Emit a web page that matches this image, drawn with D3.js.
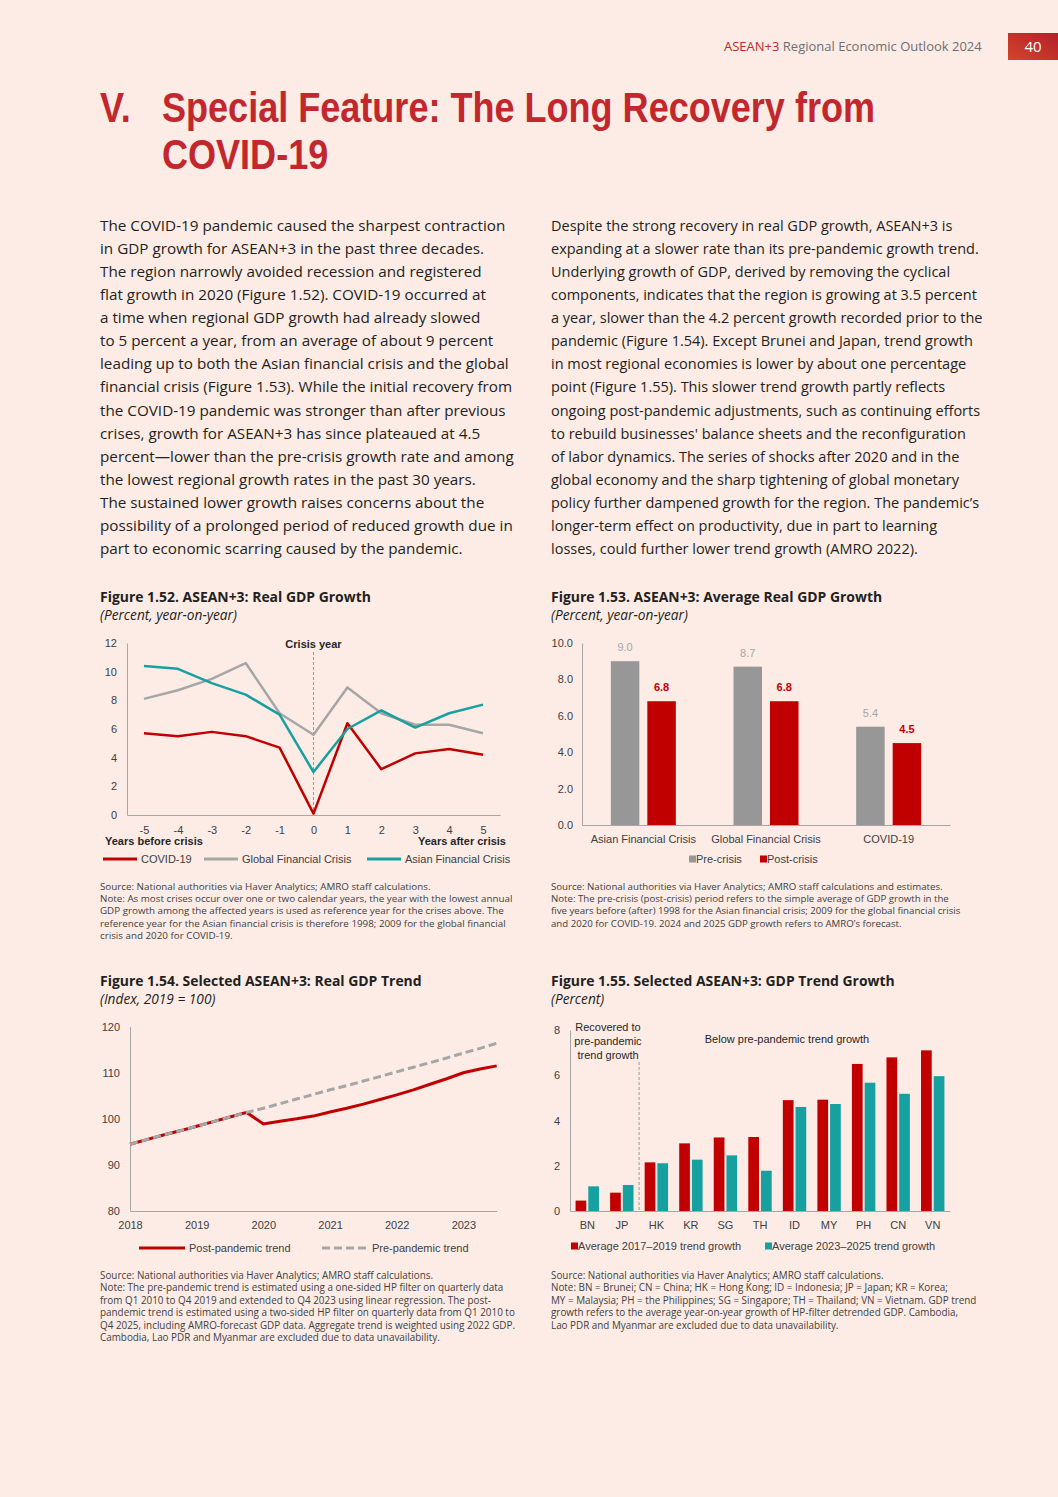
<!DOCTYPE html>
<html>
<head>
<meta charset="utf-8">
<script src="https://cdn.jsdelivr.net/npm/d3@7"></script>
<style>
  body { margin: 0; background: #fdece6; }
  svg { display: block; }
  .tick-lbl { font-family: "Liberation Sans", Arial, sans-serif; font-size: 11px; fill: #404040; }
</style>
</head>
<body>
<div id="page"></div>
<script>
// ---- chart data ----
const crisisYears = [-5, -4, -3, -2, -1, 0, 1, 2, 3, 4, 5];
const covidGrowth = [5.7, 5.5, 5.8, 5.5, 4.7, 0.1, 6.4, 3.2, 4.3, 4.6, 4.2];
const gfcGrowth   = [8.1, 8.7, 9.5, 10.6, 7.1, 5.6, 8.9, 7.1, 6.3, 6.3, 5.7];
const afcGrowth   = [10.4, 10.2, 9.2, 8.4, 7.0, 3.0, 6.0, 7.3, 6.1, 7.1, 7.7];

const crisisNames   = ["Asian Financial Crisis", "Global Financial Crisis", "COVID-19"];
const preCrisisAvg  = [9.0, 8.7, 5.4];
const postCrisisAvg = [6.8, 6.8, 4.5];

const trendQuarters = [2018.00, 2018.25, 2018.50, 2018.75, 2019.00, 2019.25, 2019.50, 2019.75,
                       2020.00, 2020.25, 2020.50, 2020.75, 2021.00, 2021.25, 2021.50, 2021.75,
                       2022.00, 2022.25, 2022.50, 2022.75, 2023.00, 2023.25, 2023.50];
const prePandemicTrend  = [94.5, 95.5, 96.5, 97.4, 98.4, 99.4, 100.4, 101.4,
                           102.3, 103.3, 104.3, 105.3, 106.3, 107.2, 108.2, 109.2,
                           110.2, 111.2, 112.2, 113.2, 114.3, 115.3, 116.4];
const postPandemicTrend = [94.5, 95.5, 96.5, 97.4, 98.4, 99.4, 100.4, 101.4,
                           98.9, 99.5, 100.0, 100.6, 101.5, 102.3, 103.2, 104.2,
                           105.2, 106.3, 107.5, 108.7, 110.0, 110.8, 111.5];
const trendYearTicks = [2018, 2019, 2020, 2021, 2022, 2023];

const economies = ["BN", "JP", "HK", "KR", "SG", "TH", "ID", "MY", "PH", "CN", "VN"];
const trend1719 = [0.46, 0.81, 2.15, 2.99, 3.25, 3.27, 4.90, 4.92, 6.50, 6.79, 7.10];
const trend2325 = [1.09, 1.15, 2.11, 2.27, 2.46, 1.78, 4.60, 4.73, 5.67, 5.18, 5.96];

// ---- page text ----
const bodyLeft = [
  "The COVID-19 pandemic caused the sharpest contraction",
  "in GDP growth for ASEAN+3 in the past three decades.",
  "The region narrowly avoided recession and registered",
  "flat growth in 2020 (Figure 1.52). COVID-19 occurred at",
  "a time when regional GDP growth had already slowed",
  "to 5 percent a year, from an average of about 9 percent",
  "leading up to both the Asian financial crisis and the global",
  "financial crisis (Figure 1.53). While the initial recovery from",
  "the COVID-19 pandemic was stronger than after previous",
  "crises, growth for ASEAN+3 has since plateaued at 4.5",
  "percent\u2014lower than the pre-crisis growth rate and among",
  "the lowest regional growth rates in the past 30 years.",
  "The sustained lower growth raises concerns about the",
  "possibility of a prolonged period of reduced growth due in",
  "part to economic scarring caused by the pandemic."
];
const bodyRight = [
  "Despite the strong recovery in real GDP growth, ASEAN+3 is",
  "expanding at a slower rate than its pre-pandemic growth trend.",
  "Underlying growth of GDP, derived by removing the cyclical",
  "components, indicates that the region is growing at 3.5 percent",
  "a year, slower than the 4.2 percent growth recorded prior to the",
  "pandemic (Figure 1.54). Except Brunei and Japan, trend growth",
  "in most regional economies is lower by about one percentage",
  "point (Figure 1.55). This slower trend growth partly reflects",
  "ongoing post-pandemic adjustments, such as continuing efforts",
  "to rebuild businesses' balance sheets and the reconfiguration",
  "of labor dynamics. The series of shocks after 2020 and in the",
  "global economy and the sharp tightening of global monetary",
  "policy further dampened growth for the region. The pandemic\u2019s",
  "longer-term effect on productivity, due in part to learning",
  "losses, could further lower trend growth (AMRO 2022)."
];
const notes152 = [
  "Source: National authorities via Haver Analytics; AMRO staff calculations.",
  "Note: As most crises occur over one or two calendar years, the year with the lowest annual",
  "GDP growth among the affected years is used as reference year for the crises above. The",
  "reference year for the Asian financial crisis is therefore 1998; 2009 for the global financial",
  "crisis and 2020 for COVID-19."
];
const notes153 = [
  "Source: National authorities via Haver Analytics; AMRO staff calculations and estimates.",
  "Note: The pre-crisis (post-crisis) period refers to the simple average of GDP growth in the",
  "five years before (after) 1998 for the Asian financial crisis; 2009 for the global financial crisis",
  "and 2020 for COVID-19. 2024 and 2025 GDP growth refers to AMRO\u2019s forecast."
];
const notes154 = [
  "Source: National authorities via Haver Analytics; AMRO staff calculations.",
  "Note: The pre-pandemic trend is estimated using a one-sided HP filter on quarterly data",
  "from Q1 2010 to Q4 2019 and extended to Q4 2023 using linear regression. The post-",
  "pandemic trend is estimated using a two-sided HP filter on quarterly data from Q1 2010 to",
  "Q4 2025, including AMRO-forecast GDP data. Aggregate trend is weighted using 2022 GDP.",
  "Cambodia, Lao PDR and Myanmar are excluded due to data unavailability."
];
const notes155 = [
  "Source: National authorities via Haver Analytics; AMRO staff calculations.",
  "Note: BN = Brunei; CN = China; HK = Hong Kong; ID = Indonesia; JP = Japan; KR = Korea;",
  "MY = Malaysia; PH = the Philippines; SG = Singapore; TH = Thailand; VN = Vietnam. GDP trend",
  "growth refers to the average year-on-year growth of HP-filter detrended GDP. Cambodia,",
  "Lao PDR and Myanmar are excluded due to data unavailability."
];

const RED = "#c00000", TEAL = "#17a0a0", GREY_LINE = "#a6a6a6", GREY_BAR = "#979797";
const W = 1058, H = 1497;

const svg = d3.select("#page").append("svg").attr("width", W).attr("height", H);
svg.append("rect").attr("width", W).attr("height", H).attr("fill", "#fdece6");

// measure helpers
function measure(str, font) {
  const t = svg.append("text").style("font", font).text(str);
  const w = t.node().getComputedTextLength();
  t.remove();
  return w;
}
function fitSize(lines, family, weight, style, target) {
  const base = 20;
  const w = d3.max(lines, s => measure(s, `${style} ${weight} ${base}px ${family}`));
  return base * target / w;
}
function textBlock(lines, x, y0, lh, family, size, color, weight, style) {
  svg.append("g").selectAll("text").data(lines).join("text")
    .attr("x", x).attr("y", (d, i) => y0 + i * lh)
    .attr("font-family", family).attr("font-size", size)
    .attr("font-weight", weight || 400).attr("font-style", style || "normal")
    .attr("fill", color).text(d => d);
}

// ---- header ----
const HEAD_FONT = "'Open Sans', sans-serif";
const hs = fitSize(["ASEAN+3 Regional Economic Outlook 2024"], HEAD_FONT, 400, "normal", 258);
const ht = svg.append("text").attr("x", 724).attr("y", 51).attr("font-family", HEAD_FONT).attr("font-size", hs);
ht.append("tspan").attr("fill", "#c1272d").text("ASEAN+3");
ht.append("tspan").attr("fill", "#6d6e71").text(" Regional Economic Outlook 2024");

const grad = svg.append("defs").append("linearGradient").attr("id", "pg").attr("x1", 0).attr("y1", 1).attr("x2", 1).attr("y2", 0);
grad.append("stop").attr("offset", 0).attr("stop-color", "#d2452b");
grad.append("stop").attr("offset", 1).attr("stop-color", "#b3202c");
svg.append("rect").attr("x", 1008).attr("y", 33).attr("width", 50).attr("height", 27).attr("fill", "url(#pg)");
svg.append("text").attr("x", 1033).attr("y", 52).attr("text-anchor", "middle")
  .attr("font-family", HEAD_FONT).attr("font-size", 15).attr("fill", "#fff").text("40");

// ---- title: condensed look by squeezing a regular bold face ----
const TITLE_FONT = "'Liberation Sans', Arial, sans-serif";
const TITLE_SIZE = 42;
const titleFont = `normal 700 ${TITLE_SIZE}px ${TITLE_FONT}`;
const squeeze = 713 / measure("Special Feature: The Long Recovery from", titleFont);
[["V.", 100, 122], ["Special Feature: The Long Recovery from", 162, 122], ["COVID-19", 162, 169]]
  .forEach(([s, x, y]) => {
    svg.append("text").attr("x", x).attr("y", y)
      .attr("font-family", TITLE_FONT).attr("font-size", TITLE_SIZE).attr("font-weight", 700)
      .attr("fill", "#c1272d")
      .attr("textLength", measure(s, titleFont) * squeeze).attr("lengthAdjust", "spacingAndGlyphs")
      .text(s);
  });

// ---- body ----
const BODY_FONT = "'Open Sans', sans-serif";
const bsL = fitSize(bodyLeft, BODY_FONT, 400, "normal", 414);
const bsR = fitSize(bodyRight, BODY_FONT, 400, "normal", 432);
textBlock(bodyLeft, 100, 231, 23.07, BODY_FONT, bsL, "#231f20");
textBlock(bodyRight, 551, 231, 23.07, BODY_FONT, bsR, "#231f20");

// ---- figure titles ----
const ftS = fitSize(["Figure 1.52. ASEAN+3: Real GDP Growth"], BODY_FONT, 700, "normal", 271);
const fsS = fitSize(["(Percent, year-on-year)"], BODY_FONT, 400, "italic", 137);
textBlock(["Figure 1.52. ASEAN+3: Real GDP Growth"], 100, 602, 0, BODY_FONT, ftS, "#231f20", 700);
textBlock(["(Percent, year-on-year)"], 100, 620, 0, BODY_FONT, fsS, "#231f20", 400, "italic");
textBlock(["Figure 1.53. ASEAN+3: Average Real GDP Growth"], 551, 602, 0, BODY_FONT, ftS, "#231f20", 700);
textBlock(["(Percent, year-on-year)"], 551, 620, 0, BODY_FONT, fsS, "#231f20", 400, "italic");
textBlock(["Figure 1.54. Selected ASEAN+3: Real GDP Trend"], 100, 986, 0, BODY_FONT, ftS, "#231f20", 700);
textBlock(["(Index, 2019 = 100)"], 100, 1004, 0, BODY_FONT, fsS, "#231f20", 400, "italic");
textBlock(["Figure 1.55. Selected ASEAN+3: GDP Trend Growth"], 551, 986, 0, BODY_FONT, ftS, "#231f20", 700);
textBlock(["(Percent)"], 551, 1004, 0, BODY_FONT, fsS, "#231f20", 400, "italic");

// ---- notes ----
const NOTE_FONT = "'Open Sans', sans-serif";
[[notes152, 100, 889.5, 413], [notes153, 551, 889.5, 410], [notes154, 100, 1279, 416], [notes155, 551, 1279, 426]]
  .forEach(([lines, x, y, tw]) => {
    const s = fitSize(lines, NOTE_FONT, 400, "normal", tw);
    textBlock(lines, x, y, 12.4, NOTE_FONT, s, "#404040");
  });

function styleAxis(sel) {
  sel.select(".domain").attr("stroke", "#a6a6a6").attr("stroke-width", 1);
  sel.selectAll(".tick line").remove();
  sel.selectAll(".tick text").attr("class", "tick-lbl").attr("font-family", null).attr("font-size", null).attr("fill", null);
}
function legendLine(x1, x2, y, color, dash, label) {
  svg.append("line").attr("x1", x1).attr("x2", x2).attr("y1", y).attr("y2", y)
    .attr("stroke", color).attr("stroke-width", 3).attr("stroke-dasharray", dash);
  svg.append("text").attr("class", "tick-lbl").attr("x", x2 + 4).attr("y", y + 4).text(label);
}
function legendSquare(x, y, color, label) {
  svg.append("rect").attr("x", x).attr("y", y - 3.5).attr("width", 7).attr("height", 7).attr("fill", color);
  svg.append("text").attr("class", "tick-lbl").attr("x", x + 7).attr("y", y + 4).text(label);
}

// ---- Figure 1.52 ----
(function () {
  const x = d3.scalePoint().domain(crisisYears).range([127, 500]).padding(0.5);
  const y = d3.scaleLinear().domain([0, 12]).range([815, 643]);
  svg.append("g").attr("transform", "translate(127,0)")
    .call(d3.axisLeft(y).tickValues(d3.range(0, 13, 2)).tickSize(0).tickPadding(10)).call(styleAxis);
  svg.append("g").attr("transform", "translate(0,815)")
    .call(d3.axisBottom(x).tickSize(0).tickPadding(11)).call(styleAxis);
  svg.append("line").attr("x1", x(0)).attr("x2", x(0)).attr("y1", 652).attr("y2", 815)
    .attr("stroke", "#9a9a9a").attr("stroke-dasharray", "3,2");
  svg.append("text").attr("class", "tick-lbl").attr("x", x(0)).attr("y", 648).attr("text-anchor", "middle")
    .attr("font-weight", 700).style("fill", "#262626").text("Crisis year");
  svg.append("text").attr("class", "tick-lbl").attr("x", 105).attr("y", 845)
    .attr("font-weight", 700).style("fill", "#262626").text("Years before crisis");
  svg.append("text").attr("class", "tick-lbl").attr("x", 506).attr("y", 845).attr("text-anchor", "end")
    .attr("font-weight", 700).style("fill", "#262626").text("Years after crisis");
  const line = d3.line().x((d, i) => x(crisisYears[i])).y(d => y(d));
  [[covidGrowth, RED], [gfcGrowth, GREY_LINE], [afcGrowth, TEAL]].forEach(([vals, c]) => {
    svg.append("path").datum(vals).attr("d", line).attr("fill", "none")
      .attr("stroke", c).attr("stroke-width", 2.5).attr("stroke-linejoin", "round");
  });
  legendLine(103, 137, 859, RED, null, "COVID-19");
  legendLine(204, 238, 859, GREY_LINE, null, "Global Financial Crisis");
  legendLine(367, 401, 859, TEAL, null, "Asian Financial Crisis");
})();

// ---- Figure 1.53 ----
(function () {
  const x0 = d3.scaleBand().domain(crisisNames).range([582, 950]);
  const x1 = d3.scaleBand().domain(["pre", "post"]).range([0, 65]).paddingInner(8 / 36.5);
  const y = d3.scaleLinear().domain([0, 10]).range([825, 643]);
  svg.append("g").attr("transform", "translate(582,0)")
    .call(d3.axisLeft(y).tickValues(d3.range(0, 11, 2)).tickFormat(d3.format(".1f")).tickSize(0).tickPadding(9)).call(styleAxis);
  svg.append("g").attr("transform", "translate(0,825)")
    .call(d3.axisBottom(x0).tickSize(0).tickPadding(10)).call(styleAxis);
  const groups = svg.append("g").selectAll("g").data(crisisNames).join("g")
    .attr("transform", d => `translate(${x0(d) + x0.bandwidth() / 2 - 32.5},0)`);
  const series = [["pre", preCrisisAvg, GREY_BAR, "#a6a6a6", 400], ["post", postCrisisAvg, RED, RED, 700]];
  series.forEach(([key, vals, fill, lc, fw]) => {
    groups.append("rect").attr("x", x1(key)).attr("width", x1.bandwidth())
      .attr("y", (d, i) => y(vals[i])).attr("height", (d, i) => y(0) - y(vals[i])).attr("fill", fill);
    groups.append("text").attr("class", "tick-lbl").attr("x", x1(key) + x1.bandwidth() / 2)
      .attr("y", (d, i) => y(vals[i]) - 10).attr("text-anchor", "middle")
      .attr("font-weight", fw).style("fill", lc).text((d, i) => d3.format(".1f")(vals[i]));
  });
  legendSquare(689, 859, GREY_BAR, "Pre-crisis");
  legendSquare(760, 859, RED, "Post-crisis");
})();

// ---- Figure 1.54 ----
(function () {
  const x = d3.scaleLinear().domain([2018, 2023.5]).range([130, 496.7]);
  const y = d3.scaleLinear().domain([80, 120]).range([1211, 1026.7]);
  svg.append("g").attr("transform", "translate(130,0)")
    .call(d3.axisLeft(y).tickValues([80, 90, 100, 110, 120]).tickSize(0).tickPadding(10)).call(styleAxis);
  svg.append("g").attr("transform", "translate(0,1211)")
    .call(d3.axisBottom(x).tickValues(trendYearTicks).tickFormat(d3.format("d")).tickSize(0).tickPadding(10)).call(styleAxis);
  const line = d3.line().x((d, i) => x(trendQuarters[i])).y(d => y(d));
  svg.append("path").datum(postPandemicTrend).attr("d", line).attr("fill", "none")
    .attr("stroke", RED).attr("stroke-width", 3);
  svg.append("path").datum(prePandemicTrend).attr("d", line).attr("fill", "none")
    .attr("stroke", GREY_LINE).attr("stroke-width", 3).attr("stroke-dasharray", "8,4");
  legendLine(139, 185, 1248, RED, null, "Post-pandemic trend");
  legendLine(322, 368, 1248, GREY_LINE, "8,4", "Pre-pandemic trend");
})();

// ---- Figure 1.55 ----
(function () {
  const x = d3.scaleBand().domain(economies).range([570, 950]);
  const y = d3.scaleLinear().domain([0, 8]).range([1211, 1030]);
  svg.append("g").attr("transform", "translate(570,0)")
    .call(d3.axisLeft(y).tickValues([0, 2, 4, 6, 8]).tickSize(0).tickPadding(10)).call(styleAxis);
  svg.append("g").attr("transform", "translate(0,1211)")
    .call(d3.axisBottom(x).tickSize(0).tickPadding(10)).call(styleAxis);
  const bw = 10.7, gap = 2;
  const g = svg.append("g");
  g.selectAll(".r").data(economies).join("rect")
    .attr("x", d => x(d) + x.bandwidth() / 2 - bw - gap / 2).attr("width", bw)
    .attr("y", (d, i) => y(trend1719[i])).attr("height", (d, i) => y(0) - y(trend1719[i])).attr("fill", RED);
  g.selectAll(".t").data(economies).join("rect")
    .attr("x", d => x(d) + x.bandwidth() / 2 + gap / 2).attr("width", bw)
    .attr("y", (d, i) => y(trend2325[i])).attr("height", (d, i) => y(0) - y(trend2325[i])).attr("fill", TEAL);
  svg.append("line").attr("x1", x("HK")).attr("x2", x("HK")).attr("y1", 1062).attr("y2", 1211)
    .attr("stroke", "#9a9a9a").attr("stroke-dasharray", "3,2");
  svg.append("g").selectAll("text").data(["Recovered to", "pre-pandemic", "trend growth"]).join("text")
    .attr("class", "tick-lbl").attr("x", 608).attr("y", (d, i) => 1031 + i * 14)
    .attr("text-anchor", "middle").style("fill", "#262626").text(d => d);
  svg.append("text").attr("class", "tick-lbl").attr("x", 787).attr("y", 1043)
    .attr("text-anchor", "middle").style("fill", "#262626").text("Below pre-pandemic trend growth");
  legendSquare(571, 1246, RED, "Average 2017\u20132019 trend growth");
  legendSquare(765, 1246, TEAL, "Average 2023\u20132025 trend growth");
})();
</script>
</body>
</html>
